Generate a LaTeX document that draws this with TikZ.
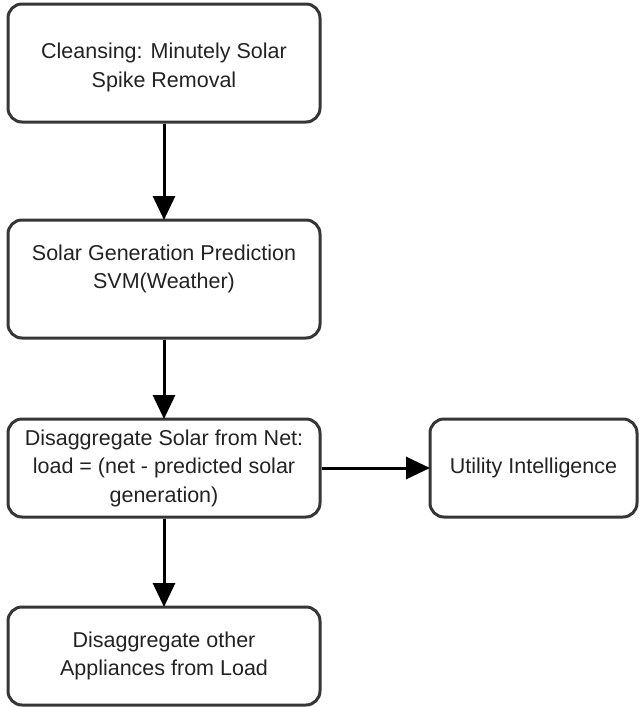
\documentclass[tikz,border=0pt]{standalone}
\usepackage{fontspec}
\setmainfont{Liberation Sans}
\usetikzlibrary{arrows.meta}
\definecolor{boxgray}{HTML}{363636}
\definecolor{txtgray}{HTML}{222222}
\begin{document}
\begin{tikzpicture}[x=1pt,y=-1pt,
  box/.style={draw=boxgray, line width=3pt, rounded corners=14pt, minimum width=312pt,
    inner sep=0pt, align=center, font=\fontsize{21.5}{28.5}\selectfont, text=txtgray},
  txt/.style={align=center, font=\fontsize{21.5}{28.5}\selectfont, text=txtgray, inner sep=0pt},
  tall/.style={minimum height=118pt},
  short/.style={minimum height=98pt},
  arr/.style={draw=black, line width=3pt, -{Triangle[length=24pt,width=22pt]}, shorten >=-1.5pt}]
\useasboundingbox (0,0) rectangle (639,707);
\node[box, tall, label={[txt, yshift=-4.5pt]center:Cleansing: Minutely Solar\\Spike Removal}] (b1) at (164,63) {};
\node[box, tall, label={[txt, yshift=10pt]center:Solar Generation Prediction\\SVM(Weather)}] (b2) at (164,279) {};
\node[box, short] (b3) at (164,468) {Disaggregate Solar from Net:\\load = (net - predicted solar\\generation)};
\node[box, short, minimum width=207pt] (ui) at (533.5,468) {Utility Intelligence};
\node[box, short] (b5) at (164,656) {Disaggregate other\\Appliances from Load};
\draw[arr] (b1) -- (b2);
\draw[arr] (b2) -- (b3);
\draw[arr] (b3) -- (b5);
\draw[arr] (b3) -- (ui);
\end{tikzpicture}
\end{document}
